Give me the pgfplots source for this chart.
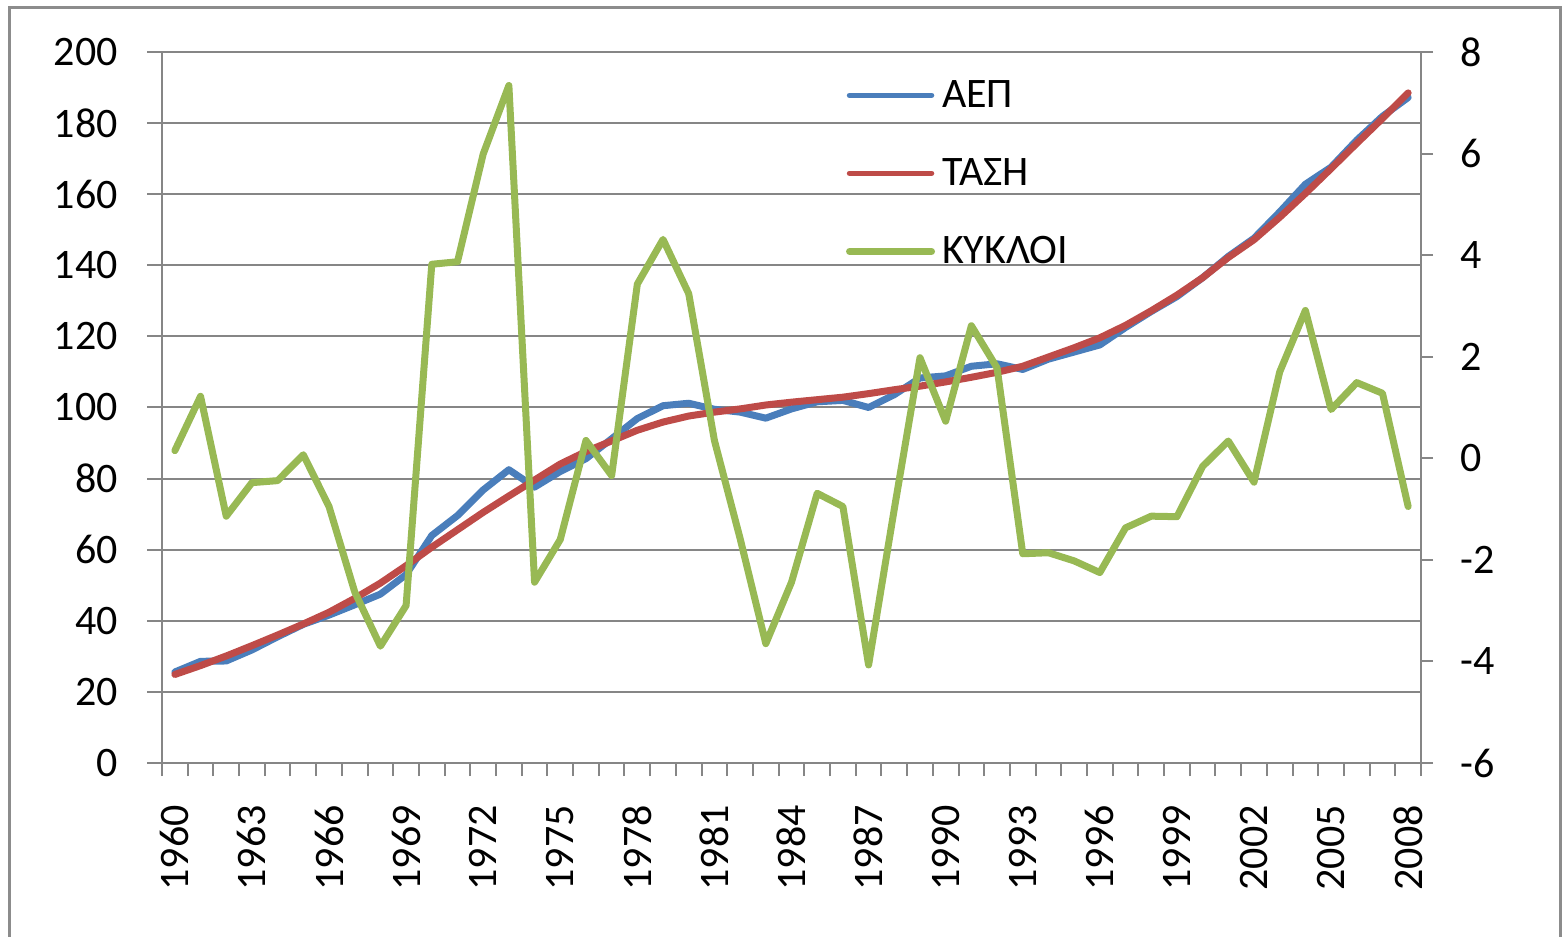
\documentclass[border=0pt]{standalone}
\usepackage{pgfplots}
\usepackage{pgfplotstable}
\pgfplotsset{compat=1.18}
\usepackage{fontspec}
\setmainfont{Carlito}
\definecolor{cblue}{HTML}{4A7EBB}
\definecolor{cred}{HTML}{BE4B48}
\definecolor{cgreen}{HTML}{98B954}
\definecolor{gridc}{HTML}{868686}
\definecolor{framec}{HTML}{8C8C8C}

\pgfplotstableread{
year aep tasi kykloi
1960 25.6 24.9 0.15
1961 28.6 27.4 1.22
1962 28.7 30.1 -1.14
1963 31.8 33.0 -0.48
1964 35.5 36.0 -0.44
1965 39.0 39.1 0.07
1966 41.6 42.4 -0.95
1967 44.5 46.3 -2.63
1968 47.5 50.6 -3.70
1969 53.0 55.5 -2.90
1970 64.0 60.7 3.82
1971 69.6 65.6 3.87
1972 76.8 70.5 5.99
1973 82.5 75.1 7.34
1974 77.6 79.6 -2.44
1975 82.0 84.1 -1.60
1976 85.6 87.6 0.35
1977 91.2 90.6 -0.34
1978 96.9 93.6 3.43
1979 100.5 95.9 4.31
1980 101.2 97.6 3.24
1981 99.5 98.7 0.35
1982 98.7 99.6 -1.58
1983 97.0 100.7 -3.65
1984 99.6 101.5 -2.44
1985 101.6 102.2 -0.69
1986 102.0 102.9 -0.95
1987 100.0 103.9 -4.07
1988 103.6 105.0 -1.00
1989 108.3 106.0 1.98
1990 108.9 107.2 0.73
1991 111.6 108.5 2.61
1992 112.3 109.9 1.78
1993 110.7 111.6 -1.88
1994 113.6 114.2 -1.86
1995 115.6 116.8 -2.02
1996 117.6 119.6 -2.25
1997 122.5 123.1 -1.37
1998 127.0 127.2 -1.14
1999 131.2 131.6 -1.15
2000 136.5 136.5 -0.16
2001 142.5 142.2 0.34
2002 147.6 147.2 -0.47
2003 155.0 153.5 1.70
2004 162.8 160.2 2.91
2005 167.6 167.2 0.96
2006 175.2 174.3 1.49
2007 181.9 181.3 1.28
2008 187.2 188.5 -0.95
}\datatable

\newcommand{\chartfont}{\fontsize{21bp}{25bp}\selectfont}

\begin{document}
\begin{tikzpicture}
\useasboundingbox (0,0) rectangle (781.5bp,468.5bp);
\draw[framec, line width=1.5bp] (4.5bp,-10bp) rectangle (780bp,464.5bp);
\begin{axis}[
  at={(81bp,87bp)}, anchor=south west,
  scale only axis, width=629.5bp, height=355.5bp,
  xmin=-0.5, xmax=48.5, ymin=0, ymax=200,
  axis x line*=bottom, axis y line*=left,
  axis line style={gridc, line width=1bp},
  ytick={0,20,...,200},
  yticklabels={0,20,40,60,80,100,120,140,160,180,200},
  ymajorgrids, grid style={gridc, line width=1bp},
  xtick={0,3,...,48},
  xticklabels={1960,1963,1966,1969,1972,1975,1978,1981,1984,1987,1990,1993,1996,1999,2002,2005,2008},
  minor xtick={-0.5,0.5,...,48.5},
  major x tick style={draw=none},
  tick align=outside, major tick length=7.5bp, minor tick length=6.5bp,
  tick style={gridc, line width=1bp},
  xticklabel style={rotate=90, anchor=east, inner sep=0pt},
  xticklabel shift=13.5bp,
  yticklabel style={anchor=east, inner sep=0pt},
  yticklabel shift=14.5bp,
  tick label style={font=\chartfont, text=black},
]
\addplot[cblue, line width=3.5bp, line join=round, line cap=round] table[x expr=\thisrow{year}-1960, y=aep] {\datatable};
\addplot[cred, line width=3.5bp, line join=round, line cap=round] table[x expr=\thisrow{year}-1960, y=tasi] {\datatable};
\end{axis}
\begin{axis}[
  at={(81bp,87bp)}, anchor=south west,
  scale only axis, width=629.5bp, height=355.5bp,
  xmin=-0.5, xmax=48.5, ymin=-6, ymax=8,
  hide x axis, axis y line*=right,
  axis line style={gridc, line width=1bp},
  ytick={-6,-4,...,8},
  yticklabels={-6,-4,-2,0,2,4,6,8},
  tick align=outside, major tick length=6bp,
  tick style={gridc, line width=1bp},
  yticklabel style={anchor=west, inner sep=0pt},
  yticklabel shift=13.5bp,
  tick label style={font=\chartfont, text=black},
  legend style={at={(0.543,0.9606)}, anchor=north west, draw=none, fill=none,
    inner sep=0pt, row sep=24bp, column sep=3.5bp, font=\chartfont,
    nodes={inner sep=0pt}},
  legend cell align=left,
  legend image code/.code={\draw[#1, line cap=round] (0bp,0bp) -- (41bp,0bp);},
]
\addlegendimage{cblue, line width=2.75bp}
\addlegendentry{ΑΕΠ}
\addlegendimage{cred, line width=2.75bp}
\addlegendentry{ΤΑΣΗ}
\addplot[cgreen, line width=3.5bp, line join=round, line cap=round] table[x expr=\thisrow{year}-1960, y=kykloi] {\datatable};
\addlegendentry{ΚΥΚΛΟΙ}
\end{axis}
\end{tikzpicture}
\end{document}
